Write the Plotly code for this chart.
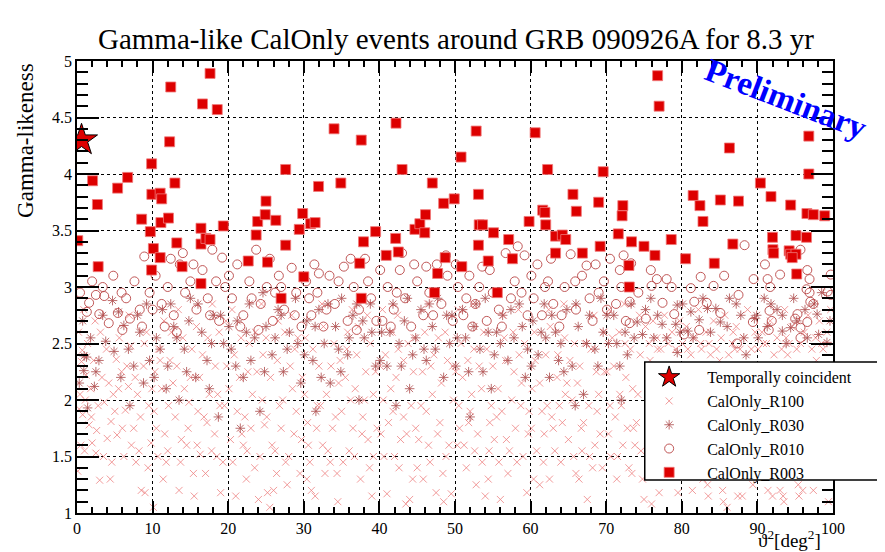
import plotly.graph_objects as go

# ---------------- data ----------------
coinc_x = [0.6]
coinc_y = [4.30]

r003 = [(0.1,3.41),(2.06,3.94),(2.7,3.73),(5.37,3.875),(6.7,3.97),(2.8,3.18),(8.55,3.60),(9.7,3.49),
        (9.87,4.09),(9.9,3.82),(11.0,3.83),(11.2,3.78),(10.1,3.34),(11.1,3.57),(12.1,3.61),(11.0,3.26),
        (12.4,4.77),(12.25,4.285),(12.95,3.92),(13.2,3.39),(13.9,3.18),(9.87,3.15),(16.4,3.52),(16.4,3.38),
        (17.05,3.43),(17.6,3.42),(16.6,4.62),(17.6,4.89),(18.55,4.57),(19.35,3.54),(22.65,3.23),(23.7,3.46),
        (23.9,3.58),(24.9,3.64),(25.0,3.76),(25.2,3.22),(26.3,3.59),(27.6,4.04),(27.6,3.37),(29.4,3.51),
        (29.85,3.65),(30.9,3.56),(31.5,3.57),(31.95,3.89),(34.0,4.40),(34.9,3.92),(37.6,4.30),(37.9,3.40),
        (37.4,3.21),(42.2,4.45),(43.0,4.04),(39.5,3.49),(40.9,3.28),(42.15,3.43),(42.5,3.31),(44.7,3.51),
        (45.35,3.56),(46.0,3.48),(46.1,3.64),(47.0,3.92),(48.5,3.74),(49.9,3.78),(50.8,4.15),(48.7,3.26),
        (52.8,4.38),(53.1,3.82),(53.2,3.55),(53.65,3.55),(53.1,3.37),(55.1,3.48),(54.4,3.23),(57.1,3.42),
        (57.6,3.25),(59.8,3.58),(60.6,4.365),(62.25,4.04),(61.6,3.68),(61.9,3.66),(62.0,3.55),(63.3,3.45),
        (64.2,3.46),(64.65,3.42),(63.3,3.30),(65.6,3.82),(66.05,3.67),(66.85,3.30),(69.0,3.75),(69.6,4.02),
        (69.2,3.36),(71.6,3.47),(72.2,3.72),(72.1,3.63),(73.35,3.40),(75.0,3.36),(73.0,3.19),(50.9,3.18),
        (76.8,4.87),(77.0,4.60),(76.45,3.28),(78.6,3.42),(73.05,3.00),(80.5,3.25),(81.5,3.81),(82.4,3.72),
        (82.8,3.58),(85.1,3.77),(86.3,4.23),(86.75,3.38),(87.5,3.76),(84.3,3.21),(90.4,3.92),(91.8,3.80),
        (94.4,3.725),(96.8,4.335),(96.8,4.00),(96.55,3.65),(97.4,3.64),(98.9,3.63),(92.0,3.44),(95.1,3.455),
        (96.5,3.44),(92.05,3.33),(92.15,3.30),(94.2,3.32),(94.4,3.29),(95.1,3.29),(94.6,3.26),(95.2,3.115),
        (27.0,2.90),(37.6,2.90),(47.7,3.12),(30.0,3.09),(55.6,2.95),(16.4,3.03),(47.3,2.95)]

r010 = [(1.6,2.86),(2.5,2.93),(3.4,3.0),(3.6,2.92),(2.95,2.76),(1.3,2.78),(5.4,2.77),(6.5,2.9),(6.0,2.62),
        (7.6,3.05),(8.3,2.8),(8.9,3.27),(9.6,2.95),(4.2,2.68),(7.0,2.72),
        (10.4,3.1),(11.2,2.85),(12.0,3.0),(12.8,2.75),(13.6,3.2),(14.3,2.95),(15.0,3.05),(15.8,2.8),(16.6,3.15),
        (17.3,2.9),(17.9,3.33),(18.8,2.7),(19.2,3.26),(14.0,3.3),(11.6,2.65),(19.6,3.0),
        (20.5,2.9),(21.2,3.2),(22.0,2.75),(22.8,3.05),(23.7,3.33),(24.3,2.85),(25.1,3.0),(25.9,2.7),(26.7,3.1),
        (27.4,2.8),(28.4,3.17),(29.0,2.95),(29.7,2.65),(24.0,2.62),(26.2,2.95),
        (30.3,3.05),(31.0,2.75),(31.8,2.95),(32.6,2.65),(33.4,3.1),(34.1,2.85),(35.3,3.18),(35.8,2.7),(36.6,3.0),
        (37.3,2.8),(38.1,3.25),(38.9,2.9),(39.6,2.7),(32.0,3.12),(37.0,2.62),
        (40.4,2.7),(41.1,3.0),(41.9,2.8),(42.7,3.15),(43.4,2.9),(44.2,2.65),(45.0,3.05),(45.8,2.75),(46.6,2.95),
        (47.6,3.2),(48.2,2.85),(49.0,3.1),(49.7,2.7),(43.0,3.3),(46.2,3.18),
        (50.4,3.0),(51.1,2.75),(51.9,3.1),(52.7,2.85),(53.6,3.18),(54.2,2.7),(55.0,2.95),(55.8,2.8),(56.7,3.3),
        (57.4,2.9),(58.3,3.36),(59.2,3.28),(59.6,2.75),(52.3,2.65),(57.9,3.05),
        (60.9,3.2),(60.4,2.9),(61.5,2.75),(62.3,3.05),(63.0,2.85),(63.8,2.65),(64.5,3.0),(65.3,3.29),(66.0,2.8),
        (66.8,3.1),(67.4,3.19),(68.2,2.7),(69.0,2.95),(69.7,3.05),(70.5,3.25),(71.3,2.85),(72.0,3.0),(72.6,2.7),
        (73.3,3.21),
        (88.3,3.37),(95.7,3.33),(91.0,3.2),(93.0,3.11),(96.6,3.15),(99.7,3.11),(99.3,2.96),(99.7,2.93),(97.0,2.87),
        (97.4,2.85),(96.9,2.95),(96.5,2.98),(96.9,3.07),(82.5,3.09),(85.6,3.1),(89.5,3.07),(91.35,3.07),(91.7,3.0),
        (75.9,3.15),(76.7,3.07),(78.0,3.07),(76.0,3.01),(74.25,2.95),(78.65,3.0),(81.2,2.99),(84.2,3.01),(77.45,2.86),
        (81.65,2.87),(83.3,2.86),(85.1,2.77),(79.0,2.76),(75.25,2.72),(87.5,2.93),(91.6,2.79),(91.9,2.70),(95.3,2.76),
        (95.0,2.72),(96.6,2.69),(95.7,2.64),(91.5,2.62),(89.4,2.69),(82.3,2.62),(80.3,2.58),(87.3,2.5),(95.7,2.55),
        (73.1,2.87),(73.1,2.68),
        (0.4,2.95),(2.0,3.05),(4.8,3.1),(5.9,2.95),(8.6,2.65),
        (10.0,2.8),(12.4,3.25),(13.2,2.6),(15.4,3.2),(17.6,2.75),(18.4,3.05),
        (20.1,3.1),(21.6,2.65),(23.1,2.9),(25.5,3.25),(27.0,3.0),(28.8,2.75),
        (30.7,2.9),(31.4,3.2),(33.0,2.8),(34.6,3.05),(36.2,3.25),(38.5,3.05),
        (40.1,3.15),(41.5,2.65),(42.3,2.95),(44.6,3.2),(47.1,2.75),(48.8,3.28),
        (50.1,3.2),(51.5,2.9),(53.2,3.0),(54.6,3.15),(56.2,2.65),(58.8,2.95),
        (60.1,3.1),(61.9,3.0),(62.7,3.25),(64.1,2.75),(65.9,3.05),(67.8,2.9),(68.6,3.2),
        (70.1,2.8),(71.8,3.15),(72.3,3.28)]

r030 = [(0.75,2.70),(0.95,2.39),(1.25,2.38),(3.8,2.52),(4.7,2.88),(6.2,2.66),(2.5,2.25),(2.3,2.12),(1.4,1.93),
        (0.9,2.26),(4.9,2.43),(5.5,2.78),(7.5,2.3),(8.3,2.6),(9.2,2.85),(7.0,1.95),(8.8,2.15),
        (10.5,2.55),(11.3,2.8),(12.0,2.3),(12.8,2.65),(13.5,2.0),(14.2,2.45),(15.0,2.9),(15.7,2.2),(16.5,2.6),
        (17.2,2.35),(18.0,2.75),(18.7,1.85),(19.4,2.5),(11.8,2.1),(14.8,2.7),(17.8,2.5),
        (20.4,2.45),(21.2,2.7),(22.0,2.2),(22.8,2.85),(23.5,2.55),(24.2,1.9),(25.0,2.65),(25.8,2.4),(26.6,2.8),
        (27.3,2.25),(28.1,2.6),(28.9,2.9),(29.6,2.15),(21.6,1.75),(24.6,2.95),(27.8,2.45),
        (30.4,2.7),(31.2,2.35),(32.0,2.8),(32.7,2.5),(33.5,2.15),(34.2,2.65),(35.0,2.9),(35.8,2.4),(36.5,2.75),
        (37.3,2.0),(38.0,2.55),(38.8,2.85),(39.5,2.3),(31.6,1.9),(34.6,2.45),(37.8,2.7),
        (40.3,2.6),(41.0,2.3),(41.8,2.85),(42.6,2.5),(43.3,2.7),(44.0,2.1),(44.8,2.55),(45.5,2.8),(46.2,2.35),
        (47.0,2.65),(47.7,2.9),(48.5,2.2),(49.3,2.5),(42.2,1.95),(45.9,2.45),(48.9,2.75),
        (50.3,2.55),(51.0,2.8),(51.8,2.25),(52.5,2.65),(53.3,2.45),(54.0,2.9),(54.8,2.1),(55.5,2.6),(56.3,2.75),
        (57.0,2.35),(57.8,2.55),(58.5,2.85),(59.3,2.2),(52.0,1.85),(55.2,2.4),(58.9,2.65),
        (60.3,2.7),(61.0,2.4),(61.8,2.85),(62.5,2.2),(63.3,2.6),(64.0,2.5),(64.8,2.8),(65.5,2.3),(66.3,2.65),
        (67.0,2.05),(67.8,2.75),(68.5,2.45),(69.3,2.9),(62.0,2.55),(65.9,1.95),(68.9,2.3),
        (70.3,2.5),(71.0,2.75),(71.8,2.3),(72.5,2.6),(73.3,2.85),(74.1,2.69),(74.8,2.58),(76.3,2.55),(77.4,2.67),
        (79.4,2.84),(79.2,2.67),(81.2,2.78),(82.3,2.71),(83.4,2.81),(84.5,2.81),(85.1,2.69),(90.9,2.9),(89.6,2.72),
        (93.3,2.61),(94.4,2.64),(97.9,2.76),(99.2,2.51),(98.1,2.58),(80.8,2.61),(79.4,2.42),(72.0,2.0),(75.9,2.9),
        (86.3,2.9),(87.8,2.75),(88.5,2.4),(91.8,2.85),(93.3,2.75),(94.8,2.9),(96.3,2.8),(98.5,2.95),
        (0.3,2.15),(1.8,2.55),(2.9,2.35),(3.4,2.75),(5.8,2.2),(6.8,2.45),(8.0,2.75),(9.6,2.35),
        (10.2,2.2),(11.0,2.45),(12.4,2.85),(13.2,2.55),(14.5,2.25),(16.0,2.85),(17.5,2.1),(19.0,2.75),
        (20.1,2.65),(21.0,2.3),(22.4,2.6),(23.0,2.35),(24.8,2.25),(26.2,2.55),(27.0,2.75),(29.2,2.5),
        (30.1,2.4),(31.5,2.65),(32.3,2.2),(33.2,2.85),(34.9,2.25),(36.0,2.55),(37.0,2.85),(39.0,2.6),
        (40.1,2.35),(41.4,2.6),(42.9,2.3),(43.7,2.9),(44.4,2.4),(46.6,2.85),(47.4,2.45),(49.6,2.75),
        (50.1,2.3),(51.4,2.55),(52.8,2.85),(53.7,2.25),(54.4,2.6),(56.0,2.5),(57.4,2.8),(59.6,2.45),
        (60.1,2.3),(61.4,2.6),(62.8,2.75),(63.7,2.35),(64.4,2.25),(66.0,2.85),(67.4,2.5),(69.6,2.6),
        (70.1,2.75),(71.4,2.5),(72.8,2.4),(73.7,2.55),(75.2,2.8),(76.8,2.75),(78.0,2.55),(79.8,2.6),
        (80.1,2.85),(81.5,2.55),(82.8,2.9),(83.8,2.6),(86.0,2.65),(87.2,2.85),(88.2,2.55),(89.9,2.75),
        (90.1,2.55),(91.3,2.65),(92.6,2.8),(93.8,2.5),(95.2,2.7),(96.6,2.55),(97.5,2.85),(99.6,2.7)]

r100 = [(0.1,1.37),(0.4,2.05),(0.6,2.34),(0.7,2.44),(0.75,1.87),(1.6,1.78),(2.6,1.73),(4.0,1.66),(5.3,1.69),
        (4.5,1.81),(3.6,1.98),(1.8,2.1),(3.3,2.2),(5.2,2.36),(5.9,2.25),(6.4,1.91),(2.5,1.53),(3.0,1.29),
        (0.3,1.92),(1.2,2.22),(2.0,1.62),(4.8,2.05),(6.8,2.12),(7.5,1.75),(8.2,1.55),(8.5,1.2),(9.0,1.18),
        (7.1,2.48),(8.8,2.3),(9.5,1.95),(7.8,1.45),(6.2,1.5),(9.2,2.6),(5.6,2.55),(8.0,2.05),(3.9,2.45),
        (1.0,1.55),(9.8,1.62),
        (10.1,1.05),(10.5,1.75),(11.2,2.1),(11.8,1.45),(12.3,2.35),(13.0,1.85),(13.5,1.2),(14.0,2.55),(14.5,1.6),
        (15.0,2.2),(15.5,1.15),(16.0,1.9),(16.6,2.4),(17.0,1.35),(17.5,2.05),(18.2,1.7),(18.8,2.6),(19.0,1.18),
        (19.5,1.95),(10.8,2.45),(12.0,1.55),(13.8,1.65),(15.8,2.65),(17.2,1.8),(18.5,1.5),(11.5,2.7),(14.8,1.98),
        (16.3,1.52),(19.8,2.3),(12.7,2.15),(10.3,2.25),
        (20.3,1.65),(21.0,1.15),(21.5,2.2),(22.2,1.85),(22.8,2.5),(23.5,1.4),(24.0,1.12),(24.5,2.0),(25.2,1.18),
        (25.5,1.05),(25.8,1.6),(26.0,1.2),(26.5,2.35),(27.0,1.75),(27.5,2.6),(28.0,1.5),(28.5,2.1),(29.0,1.9),
        (29.5,1.35),(20.8,2.4),(22.5,1.55),(23.8,2.25),(24.8,1.78),(26.8,1.95),(28.8,2.45),(21.8,1.7),(23.2,2.05),
        (27.8,1.25),(29.8,2.2),(25.0,2.55),
        (30.5,1.8),(31.0,1.2),(31.5,1.15),(32.0,2.3),(32.5,1.6),(33.0,2.05),(33.5,1.45),(34.0,2.5),(34.5,1.1),
        (35.0,1.9),(35.5,2.2),(36.0,1.55),(36.5,1.75),(37.0,2.4),(37.5,1.3),(38.0,2.0),(38.5,1.65),(39.0,1.15),
        (39.5,2.25),(30.2,2.55),(31.8,1.95),(33.8,1.75),(35.8,2.6),(37.8,1.85),(39.2,1.5),(32.8,1.35),(34.8,2.35),
        (36.8,2.1),(38.8,2.5),(30.8,1.45),
        (40.2,1.7),(41.0,1.17),(41.5,2.1),(42.0,1.5),(42.5,2.45),(43.2,1.85),(43.5,1.08),(44.0,1.12),(44.5,2.25),
        (45.0,1.4),(45.5,1.95),(46.0,2.6),(46.5,1.6),(47.0,2.05),(47.5,1.18),(48.0,1.8),(48.5,1.1),(49.0,2.35),
        (49.5,1.17),(40.8,2.4),(42.8,1.65),(44.8,1.75),(46.8,2.3),(48.8,1.5),(41.8,1.9),(43.8,2.5),(45.8,1.3),
        (47.8,2.55),(49.8,2.0),(40.5,2.0),
        (50.3,1.6),(51.0,2.2),(51.5,1.4),(52.0,1.9),(52.5,2.45),(53.0,1.7),(53.5,2.1),(54.0,1.15),(54.5,1.55),
        (55.0,2.3),(55.5,1.85),(56.0,1.12),(56.5,2.55),(57.0,1.35),(57.5,2.0),(58.0,1.75),(58.5,2.4),(59.0,1.5),
        (59.5,1.18),(50.8,2.5),(52.8,1.25),(54.8,1.95),(56.8,1.65),(58.8,2.15),(51.8,1.8),(53.8,2.6),(55.8,1.45),
        (57.8,2.25),(59.8,1.9),(50.5,1.95),
        (60.2,2.1),(60.8,1.55),(61.5,1.9),(62.0,2.4),(62.5,1.3),(63.0,1.75),(63.5,2.2),(64.0,1.45),(64.5,2.55),
        (65.0,1.65),(65.5,2.0),(66.0,1.35),(66.5,2.3),(67.0,1.8),(67.5,1.12),(68.0,2.45),(68.5,1.6),(69.0,2.05),
        (69.5,1.4),(60.5,2.6),(61.8,1.7),(63.8,1.95),(65.8,2.5),(67.8,1.5),(69.8,2.25),(62.8,1.85),(64.8,2.15),
        (66.8,1.55),(68.8,1.9),(61.2,1.25),
        (70.3,1.7),(71.0,2.3),(71.5,1.5),(72.0,1.95),(72.5,2.5),(73.0,1.4),(73.5,2.1),(74.0,1.8),(74.5,2.4),
        (75.0,1.12),(75.5,1.65),(76.0,1.08),(76.5,2.2),(77.0,1.18),(77.5,1.9),(78.0,2.55),(78.5,1.55),(79.0,2.0),
        (79.5,1.18),(70.8,2.55),(72.8,1.75),(74.8,1.3),(76.8,2.45),(78.8,1.85),(71.8,2.05),(73.8,1.6),(75.8,2.35),
        (77.8,1.45),(79.8,2.25),(70.5,1.95),
        (80.3,1.6),(81.0,2.2),(81.5,1.45),(82.0,1.9),(82.5,2.5),(83.0,1.7),(83.5,1.15),(84.0,2.05),(84.5,1.55),
        (85.0,2.35),(85.5,1.1),(86.0,1.05),(86.5,1.8),(87.0,2.45),(87.5,1.35),(88.0,1.15),(88.5,2.0),(89.0,1.65),
        (89.5,2.3),(80.8,2.45),(82.8,1.3),(84.8,1.95),(86.8,2.6),(88.8,1.75),(81.8,1.75),(83.8,2.4),(85.8,1.5),
        (87.8,2.15),(89.8,1.9),(80.5,1.95),
        (90.3,1.75),(91.0,2.25),(91.5,1.5),(92.0,1.15),(92.5,2.0),(93.0,1.2),(93.5,1.1),(94.0,2.4),(94.5,1.65),
        (95.0,1.95),(95.5,1.15),(96.0,1.2),(96.5,2.3),(97.0,1.55),(97.5,2.05),(98.0,1.8),(98.5,2.5),(99.0,1.4),
        (99.5,2.15),(90.8,2.5),(92.8,1.6),(94.8,2.2),(96.8,1.85),(98.8,1.6),(91.8,1.85),(93.8,2.55),(95.8,1.4),
        (97.8,2.35),(99.8,1.9),(90.5,2.1),
        (0.2,2.6),(0.5,1.6),(1.1,2.0),(1.4,2.5),(1.9,1.85),(2.2,2.35),(2.8,1.95),(3.1,2.6),(3.5,1.5),(4.2,2.15),
        (4.6,1.45),(5.0,1.9),(5.5,2.1),(6.0,1.75),(6.6,2.3),(7.2,1.6),(7.7,2.2),(8.4,1.85),(8.9,2.5),(9.4,1.4),
        (9.9,2.1),(0.9,2.8),(2.4,2.7),(6.9,2.75),(4.4,1.3),
        (10.2,1.9),(10.7,1.5),(11.0,2.35),(11.6,1.7),(12.1,1.95),(12.5,2.6),(13.2,2.3),(13.7,1.45),(14.2,2.1),
        (14.7,1.75),(15.2,2.45),(15.9,1.6),(16.2,2.2),(16.8,1.85),(17.3,2.55),(17.8,1.55),(18.3,2.3),(18.9,1.95),
        (19.3,1.45),(19.7,2.7),(11.4,1.3),(13.4,2.8),(15.4,1.35),(17.9,2.85),(18.6,2.05),
        (20.1,2.1),(20.6,1.45),(21.2,1.9),(21.7,2.55),(22.0,1.6),(22.6,2.25),(23.0,1.75),(23.6,2.6),(24.2,1.5),
        (24.6,2.4),(25.1,1.85),(25.6,2.2),(26.2,1.55),(26.6,2.7),(27.2,2.0),(27.6,1.45),(28.2,2.3),(28.7,1.7),
        (29.2,2.55),(29.7,1.65),(20.5,2.8),(22.4,1.3),(24.4,2.85),(26.4,1.35),(28.4,2.75),
        (30.1,2.05),(30.6,1.6),(31.2,2.45),(31.7,1.75),(32.2,1.95),(32.6,2.65),(33.2,1.55),(33.6,2.3),(34.2,1.85),
        (34.6,2.15),(35.2,1.45),(35.7,2.45),(36.2,2.0),(36.7,1.5),(37.2,2.65),(37.7,1.7),(38.2,2.25),(38.7,1.4),
        (39.2,2.05),(39.7,1.75),(30.4,1.3),(32.4,2.85),(34.4,1.35),(36.4,2.8),(38.4,2.75),
        (40.1,2.3),(40.6,1.5),(41.2,1.8),(41.7,2.6),(42.2,2.2),(42.6,1.4),(43.2,2.35),(43.6,1.7),(44.2,1.95),
        (44.6,2.55),(45.2,1.65),(45.7,2.25),(46.2,1.9),(46.7,1.45),(47.2,2.4),(47.7,1.7),(48.2,2.15),(48.7,2.6),
        (49.2,1.6),(49.7,2.3),(40.4,2.8),(42.4,2.75),(44.4,1.3),(46.4,2.85),(48.4,1.35),
        (50.1,2.25),(50.6,1.75),(51.2,1.6),(51.7,2.35),(52.2,2.05),(52.6,1.55),(53.2,2.3),(53.6,1.45),(54.2,2.45),
        (54.6,1.8),(55.2,1.65),(55.7,2.1),(56.2,1.9),(56.7,2.35),(57.2,1.55),(57.7,2.6),(58.2,1.45),(58.7,1.95),
        (59.2,2.5),(59.7,1.7),(50.4,2.8),(52.4,2.85),(54.4,1.3),(56.4,2.75),(58.4,2.8),
        (60.1,1.75),(60.6,2.35),(61.2,2.15),(61.7,1.45),(62.2,1.95),(62.6,2.65),(63.2,1.55),(63.6,2.4),(64.2,1.8),
        (64.6,2.05),(65.2,2.35),(65.7,1.5),(66.2,2.15),(66.7,1.75),(67.2,2.5),(67.7,1.95),(68.2,1.4),(68.7,2.25),
        (69.2,1.7),(69.7,2.6),(60.4,1.3),(62.4,2.8),(64.4,2.85),(66.4,1.3),(68.4,2.75),
        (70.1,2.25),(70.6,1.5),(71.2,1.85),(71.7,2.6),(72.2,1.6),(72.6,2.2),(73.2,2.45),(73.6,1.75),(74.2,2.05),
        (74.6,1.55),(75.2,2.65),(75.7,2.5),(76.2,2.7),(76.7,2.55),(77.2,2.45),(77.7,2.75),(78.2,2.5),(78.7,2.6),
        (79.2,2.45),(79.7,2.7),(70.4,2.8),(72.4,2.85),(74.4,2.75),(71.4,1.3),(73.4,1.35),
        (80.1,2.5),(80.6,2.65),(81.2,2.4),(81.7,2.55),(82.2,2.8),(82.6,2.45),(83.2,2.6),(83.6,2.5),(84.2,2.7),
        (84.6,2.45),(85.2,2.55),(85.7,2.75),(86.2,2.4),(86.7,2.5),(87.2,2.65),(87.7,2.45),(88.2,2.55),(88.7,2.8),
        (89.2,2.45),(89.7,2.6),(81.4,1.2),(83.4,1.25),(85.4,1.2),(87.4,1.15),(89.4,1.25),
        (90.1,2.45),(90.6,2.6),(91.2,2.5),(91.7,2.7),(92.2,2.4),(92.6,2.55),(93.2,2.45),(93.6,2.8),(94.2,2.5),
        (94.6,2.65),(95.2,2.45),(95.7,2.5),(96.2,2.6),(96.7,2.75),(97.2,2.45),(97.7,2.55),(98.2,2.7),(98.7,2.45),
        (99.2,2.6),(99.7,2.8),(91.4,1.2),(93.4,1.15),(95.4,1.25),(97.4,1.2),(99.4,1.1)]

x_ticks = [0, 10, 20, 30, 40, 50, 60, 70, 80, 90, 100]
y_ticks = [1, 1.5, 2, 2.5, 3, 3.5, 4, 4.5, 5]

FONT = "Liberation Serif"
C100 = "rgba(238,130,130,0.8)"
C030 = "rgba(178,85,85,0.85)"
C010 = "rgba(185,70,70,0.9)"
C003 = "#dd0000"

def xs(p): return [a for a, b in p]
def ys(p): return [b for a, b in p]

fig = go.Figure()
fig.add_trace(go.Scatter(x=xs(r100), y=ys(r100), mode="markers", name="CalOnly_R100", legendrank=2,
                         marker=dict(symbol="x-thin-open", size=7, color=C100, line=dict(width=1, color=C100))))
fig.add_trace(go.Scatter(x=xs(r030), y=ys(r030), mode="markers", name="CalOnly_R030", legendrank=3,
                         marker=dict(symbol="asterisk-open", size=8, color=C030, line=dict(width=1, color=C030))))
fig.add_trace(go.Scatter(x=xs(r010), y=ys(r010), mode="markers", name="CalOnly_R010", legendrank=4,
                         marker=dict(symbol="circle-open", size=9, color=C010, line=dict(width=1, color=C010))))
fig.add_trace(go.Scatter(x=xs(r003), y=ys(r003), mode="markers", name="CalOnly_R003", legendrank=5,
                         marker=dict(symbol="square", size=10, color=C003, line=dict(width=1, color="rgba(240,120,120,0.8)"))))
fig.add_trace(go.Scatter(x=coinc_x, y=coinc_y, mode="markers", name="Temporally coincident", legendrank=1,
                         marker=dict(symbol="star", size=24, color=C003, line=dict(color="black", width=1))))

axis_common = dict(showline=True, linecolor="black", linewidth=1.6, mirror="ticks", ticks="inside",
                   tickcolor="black", showgrid=True, gridcolor="black", griddash="dot", gridwidth=1,
                   zeroline=False, tickfont=dict(family=FONT, size=16, color="black"))

fig.update_layout(
    width=885, height=552,
    margin=dict(l=69, r=60, t=53, b=47),
    paper_bgcolor="white", plot_bgcolor="white",
    showlegend=True,
    legend=dict(x=0.733, y=0.338, xanchor="left", yanchor="top", bgcolor="rgba(0,0,0,0)",
                borderwidth=0, font=dict(family=FONT, size=16, color="black"),
                itemwidth=66, itemsizing="trace", tracegroupgap=0),
    shapes=[dict(type="rect", xref="paper", yref="paper", x0=0.751, x1=1.1, y0=0.073, y1=0.334,
                 fillcolor="white", line=dict(color="black", width=1.5), layer="above")],
    xaxis=dict(range=[0, 100], tickvals=x_ticks, ticklen=12, tickwidth=1.5,
               minor=dict(dtick=2, ticklen=6, tickcolor="black", ticks="inside", showgrid=False),
               **axis_common),
    yaxis=dict(range=[1, 5], tickvals=y_ticks, ticklen=22, tickwidth=1.5,
               minor=dict(dtick=0.1, ticklen=11, tickcolor="black", ticks="inside", showgrid=False),
               **axis_common),
    annotations=[
        dict(text="Gamma-like CalOnly events around GRB 090926A for 8.3 yr", xref="paper", yref="paper",
             x=0.501, y=1.049, xanchor="center", yanchor="middle", showarrow=False,
             font=dict(family=FONT, size=29, color="black")),
        dict(text="Gamma-likeness", xref="paper", yref="paper", x=-0.069, y=0.825, textangle=-90,
             xanchor="center", yanchor="middle", showarrow=False, font=dict(family=FONT, size=23, color="black")),
        dict(text="\u03d1<sup>2</sup>[deg<sup>2</sup>]", xref="paper", yref="paper", x=0.987, y=-0.088,
             xanchor="right", yanchor="bottom", showarrow=False, font=dict(family=FONT, size=19, color="black")),
        dict(text="<b>Preliminary</b>", xref="paper", yref="paper", x=0.938, y=0.916, textangle=21,
             xanchor="center", yanchor="middle", showarrow=False, font=dict(family=FONT, size=33, color="#0000ff")),
    ],
)

fig.write_html("out.html")
